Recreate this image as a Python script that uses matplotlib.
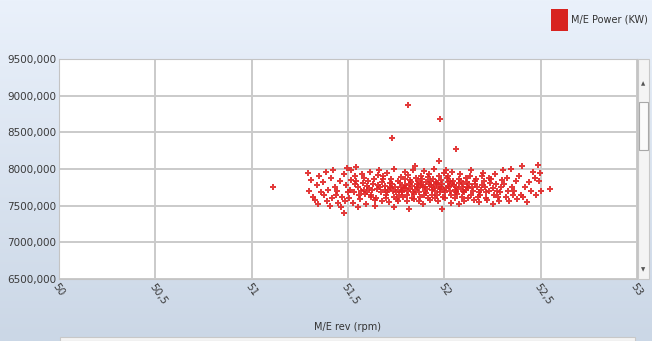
import numpy as np
import matplotlib
matplotlib.use("Agg")
import matplotlib.pyplot as plt
from matplotlib.patches import Rectangle
from matplotlib.ticker import FuncFormatter
from matplotlib.colors import LinearSegmentedColormap

# M/E rev (rpm) -> list of M/E Power readings (thousands of kW)
bins = {
    51.11: [7750],
    51.29: [7950, 7700],
    51.31: [7850, 7620],
    51.33: [7580, 7780],
    51.35: [7900, 7680, 7520],
    51.37: [7820, 7640],
    51.39: [7560, 7720, 7960],
    51.41: [7880, 7600, 7500],
    51.43: [7760, 7650, 7990],
    51.45: [7540, 7840, 7700],
    51.47: [7620, 7930, 7480],
    51.48: [7400],
    51.49: [7780, 7680, 7560, 8010],
    51.51: [7720, 7850, 7610, 7980],
    51.53: [7680, 7790, 7540, 7900],
    51.55: [7750, 7640, 7830, 7480, 8030],
    51.57: [7700, 7810, 7590, 7930],
    51.59: [7660, 7770, 7880, 7520, 7720],
    51.61: [7740, 7620, 7840, 7960, 7690],
    51.63: [7800, 7580, 7710, 7870, 7650],
    51.65: [7730, 7920, 7600, 7780, 7500],
    51.67: [7690, 7820, 7750, 7560, 7990],
    51.69: [7770, 7640, 7860, 7710, 7900, 7600],
    51.71: [7720, 7810, 7680, 7550, 7950, 7760],
    51.73: [7790, 7620, 7870, 7700, 7740, 7480, 8420],
    51.75: [7680, 7830, 7760, 7590, 8000, 7720],
    51.77: [7810, 7700, 7650, 7890, 7570, 7750],
    51.79: [7740, 7860, 7620, 7780, 7690, 7960],
    51.81: [7700, 7800, 7560, 7920, 7740, 7450, 7650, 8870],
    51.83: [7770, 7680, 7850, 7610, 7730, 7990, 7820],
    51.85: [7720, 7800, 7590, 7880, 7660, 7750, 8040],
    51.87: [7690, 7780, 7830, 7620, 7740, 7900, 7560],
    51.89: [7760, 7700, 7860, 7640, 7810, 7970, 7520],
    51.91: [7730, 7800, 7670, 7890, 7750, 7600, 7820],
    51.93: [7780, 7710, 7840, 7650, 7930, 7760, 7580],
    51.95: [7700, 7820, 7740, 7600, 7870, 7790, 8000],
    51.97: [7750, 7680, 7810, 7900, 7640, 7730, 7560, 8110],
    51.98: [8680],
    51.99: [7790, 7710, 7850, 7620, 7760, 7950, 7460],
    52.01: [7740, 7820, 7680, 7880, 7600, 7770, 7990],
    52.03: [7700, 7800, 7760, 7650, 7910, 7540, 7840],
    52.05: [7780, 7690, 7830, 7720, 7960, 7600],
    52.06: [8270],
    52.07: [7730, 7810, 7660, 7870, 7750, 7520],
    52.09: [7760, 7700, 7840, 7620, 7930, 7790],
    52.11: [7720, 7820, 7680, 7880, 7570, 7750],
    52.13: [7790, 7650, 7740, 7900, 7610],
    52.15: [7700, 7830, 7760, 7580, 7980],
    52.17: [7750, 7680, 7860, 7620, 7800],
    52.19: [7720, 7900, 7640, 7780, 7550],
    52.21: [7760, 7690, 7840, 7600, 7950],
    52.23: [7700, 7810, 7580, 7880],
    52.25: [7740, 7650, 7860, 7520],
    52.27: [7790, 7620, 7930, 7700],
    52.29: [7680, 7850, 7560, 7760],
    52.31: [7800, 7620, 7990],
    52.33: [7700, 7560, 7880],
    52.35: [7760, 7640, 8000],
    52.37: [7830, 7590, 7700],
    52.39: [7900, 7650],
    52.41: [7620, 7760, 8040],
    52.43: [7550, 7820],
    52.45: [7700, 7960],
    52.47: [7880, 7640],
    52.49: [7830, 7940, 8050],
    52.50: [7700],
    52.55: [7730],
}
# rpm readings inside a bin are not identical: small offsets read per position
bin_offsets = [0.0, 0.008, -0.006, 0.004, -0.009, 0.007, -0.003, 0.0]

rpm = []
power = []
for r, vals in bins.items():
    for j, v in enumerate(vals):
        rpm.append(r + bin_offsets[j])
        power.append(v * 1000)

x_ticks = [50, 50.5, 51, 51.5, 52, 52.5, 53]
y_ticks = [6500000, 7000000, 7500000, 8000000, 8500000, 9000000, 9500000]

W, H = 652, 341
fig = plt.figure(figsize=(W / 100, H / 100), dpi=100)

# background gradient
bg = fig.add_axes([0, 0, 1, 1], zorder=-10)
grad = np.linspace(0, 1, 256).reshape(-1, 1)
cmap = LinearSegmentedColormap.from_list("bg", ["#eaf1fb", "#cbd7e6"])
bg.imshow(grad, aspect="auto", cmap=cmap, extent=[0, 1, 0, 1], origin="upper")
bg.axis("off")

ax = fig.add_axes([59 / W, 1 - 279 / H, 578 / W, 220 / H])
ax.set_facecolor("white")
ax.scatter(rpm, power, s=14, marker="P", color="#e02626", alpha=0.9, linewidths=0, zorder=3)

ax.set_xlim(50, 53)
ax.set_ylim(6500000, 9500000)
ax.set_xticks(x_ticks)
ax.set_yticks(y_ticks)
ax.grid(True, color="#cacaca", linewidth=1.4)
ax.set_axisbelow(True)
for s in ax.spines.values():
    s.set_color("#c4c4c4")
ax.tick_params(length=0, pad=2, labelsize=7.5, labelcolor="#3a3a3a")

ax.yaxis.set_major_formatter(FuncFormatter(lambda v, p: f"{int(v // 1000)},{int(v % 1000):03d}"))
ax.xaxis.set_major_formatter(FuncFormatter(lambda v, p: (f"{v:g}").replace(".", ",")))
for lbl in ax.get_xticklabels():
    lbl.set_rotation(-55)
    lbl.set_ha("left")
    lbl.set_va("top")
    lbl.set_rotation_mode("anchor")

ax.set_xlabel("M/E rev (rpm)", fontsize=7, color="#333333", labelpad=11)

# legend swatch at top right
fig.patches.append(Rectangle((551 / W, 1 - 31 / H), 17 / W, 22 / H, transform=fig.transFigure,
                             facecolor="#d8231f", edgecolor="none"))
fig.text(571 / W, 1 - 20 / H, "M/E Power (KW)", fontsize=7, color="#333333", va="center")

# vertical scrollbar
fig.patches.append(Rectangle((638 / W, 1 - 279 / H), 11 / W, 220 / H, transform=fig.transFigure,
                             facecolor="#f4f4f4", edgecolor="#c8c8c8", linewidth=0.8))
fig.patches.append(Rectangle((639 / W, 1 - 150 / H), 9 / W, 48 / H, transform=fig.transFigure,
                             facecolor="#fafafa", edgecolor="#a8a8a8", linewidth=0.8))
fig.text(643.5 / W, 1 - 84 / H, "▲", fontsize=4, color="#555555", ha="center", va="center")
fig.text(643.5 / W, 1 - 270 / H, "▼", fontsize=4, color="#555555", ha="center", va="center")

# horizontal scrollbar at bottom edge
fig.patches.append(Rectangle((60 / W, 0), 575 / W, 4 / H, transform=fig.transFigure,
                             facecolor="#f4f4f4", edgecolor="#c8c8c8", linewidth=0.8))

fig.savefig("out.png", dpi=100)
